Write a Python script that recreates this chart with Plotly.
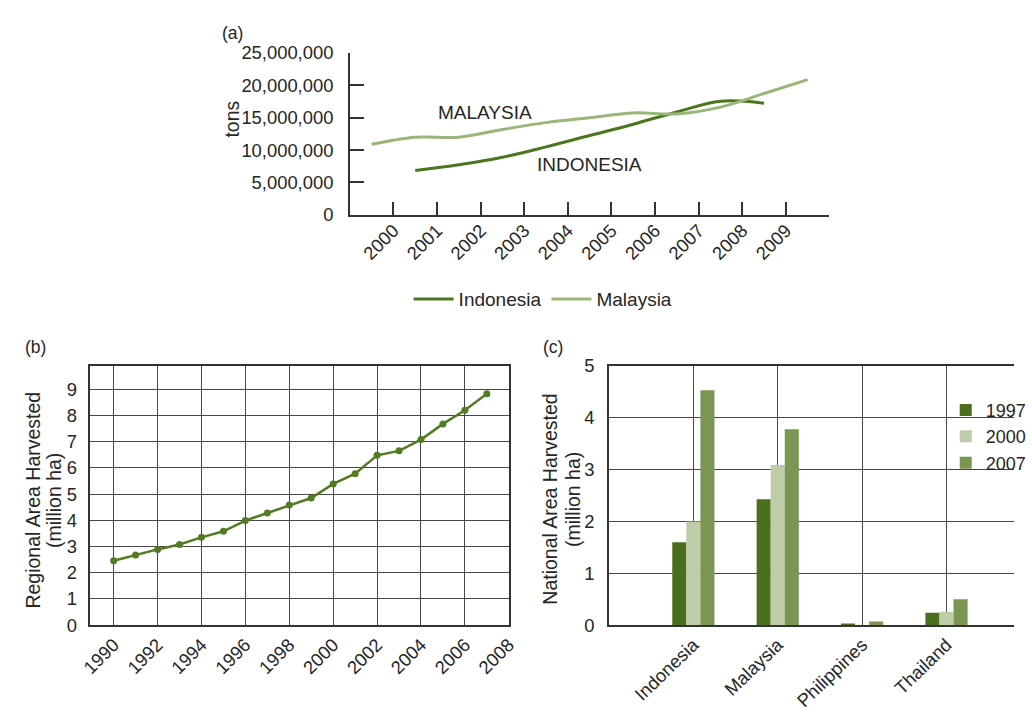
import plotly.graph_objects as go

# ---- (a) palm oil production, tons (points sit at mid-year) ----
malaysia_years = [1999.5, 2000.5, 2001.5, 2002.5, 2003.5, 2004.5, 2005.5,
                  2006.5, 2007.5, 2008.5, 2009.5]
malaysia_tons = [10.9e6, 12.0e6, 12.0e6, 13.2e6, 14.25e6, 15.0e6, 15.75e6,
                 15.6e6, 16.65e6, 18.75e6, 20.9e6]
indonesia_years = [2000.5, 2001.5, 2002.5, 2003.5, 2004.5, 2005.5, 2006.5,
                   2007.5, 2008.5]
indonesia_tons = [6.85e6, 7.75e6, 8.9e6, 10.5e6, 12.25e6, 14.0e6, 15.9e6,
                  17.55e6, 17.25e6]
a_year_ticks = [2000, 2001, 2002, 2003, 2004, 2005, 2006, 2007, 2008, 2009, 2010]
a_year_labels = ["2000", "2001", "2002", "2003", "2004", "2005", "2006",
                 "2007", "2008", "2009", ""]

# ---- (b) regional area harvested, million ha ----
region_years = list(range(1990, 2008))
region_area = [2.46, 2.68, 2.89, 3.08, 3.35, 3.58, 3.99, 4.28, 4.58, 4.85,
               5.39, 5.78, 6.48, 6.65, 7.08, 7.68, 8.20, 8.83]

# ---- (c) national area harvested, million ha ----
countries = ["Indonesia", "Malaysia", "Philippines", "Thailand"]
area_1997 = [1.60, 2.43, 0.03, 0.24]
area_2000 = [2.00, 3.09, 0.00, 0.26]
area_2007 = [4.53, 3.78, 0.07, 0.50]

FONT = "Liberation Sans"
TXT = "#262626"
AX = "#333333"
GRID = "#474747"

DARK_GREEN = "#4a761e"
LIGHT_GREEN = "#9bb67a"

fig = go.Figure()

# (a) lines
fig.add_trace(go.Scatter(
    x=indonesia_years, y=indonesia_tons, name="Indonesia", mode="lines",
    line=dict(color=DARK_GREEN, width=3, shape="spline", smoothing=1),
    xaxis="x", yaxis="y", legend="legend"))
fig.add_trace(go.Scatter(
    x=malaysia_years, y=malaysia_tons, name="Malaysia", mode="lines",
    line=dict(color=LIGHT_GREEN, width=3, shape="spline", smoothing=1),
    xaxis="x", yaxis="y", legend="legend"))

# (b) line with markers
fig.add_trace(go.Scatter(
    x=region_years, y=region_area, mode="lines+markers", showlegend=False,
    line=dict(color="#527b24", width=2.5),
    marker=dict(color="#527b24", size=7),
    xaxis="x2", yaxis="y2"))

# (c) grouped bars
bar_series = [("1997", area_1997, "#4b6f1d"),
              ("2000", area_2000, "#bfcca8"),
              ("2007", area_2007, "#7a9652")]
for name, vals, col in bar_series:
    fig.add_trace(go.Bar(
        x=countries, y=vals, name=name, marker=dict(color=col, line_width=0),
        xaxis="x3", yaxis="y3", legend="legend2"))

tick_font = dict(family=FONT, size=18.4, color=TXT)

fig.update_layout(
    width=1032, height=717,
    margin=dict(l=0, r=0, t=0, b=0),
    paper_bgcolor="white", plot_bgcolor="white",
    font=dict(family=FONT, size=19, color=TXT),
    barmode="group", bargap=0.5, bargroupgap=0,
    # (a)
    xaxis=dict(domain=[0.3385, 0.8162], anchor="y", range=[1999, 2010],
               tickmode="array", tickvals=a_year_ticks, ticktext=a_year_labels,
               tickangle=-45, ticks="inside", ticklen=13, tickwidth=1.5,
               tickcolor=AX, showline=True, linecolor=AX, linewidth=1.5,
               showgrid=False, zeroline=False, tickfont=tick_font,
               ticklabelstandoff=-4),
    yaxis=dict(domain=[0.7071, 0.9396], anchor="x", range=[0, 25e6],
               tickmode="array", tickvals=[0, 5e6, 10e6, 15e6, 20e6, 25e6],
               tickformat=",d", ticks="inside", ticklen=14, tickwidth=1.5,
               tickcolor=AX, showline=True, linecolor=AX, linewidth=1.5,
               showgrid=False, zeroline=False, tickfont=tick_font,
               ticklabelstandoff=11),
    # (b)
    xaxis2=dict(domain=[0.0792, 0.4968], anchor="y2", range=[1988.9, 2008],
                tickmode="array", tickvals=list(range(1990, 2009, 2)),
                tickangle=-45, ticks="", showline=True, mirror=True,
                linecolor=AX, linewidth=1.5, showgrid=True, gridcolor=GRID,
                gridwidth=1.2, zeroline=False, tickfont=tick_font),
    yaxis2=dict(domain=[0.1176, 0.4900], anchor="x2", range=[0, 9.89],
                tickmode="array", tickvals=list(range(0, 10)), ticks="",
                showline=True, mirror=True, linecolor=AX, linewidth=1.5,
                showgrid=True, gridcolor=GRID, gridwidth=1.2, zeroline=False,
                tickfont=tick_font, ticklabelstandoff=7),
    # (c)
    xaxis3=dict(domain=[0.5966, 1.0], anchor="y3", range=[-1, 3.8],
                type="category", tickangle=-44, ticks="", showline=True,
                mirror=True, linecolor=AX, linewidth=1.5, showgrid=True,
                gridcolor=GRID, gridwidth=1.2, zeroline=False,
                tickfont=tick_font),
    yaxis3=dict(domain=[0.1176, 0.4900], anchor="x3", range=[0, 5],
                tickmode="array", tickvals=[0, 1, 2, 3, 4, 5], ticks="",
                showline=True, linecolor=AX, linewidth=1.5, showgrid=True,
                gridcolor=GRID, gridwidth=1.2, zeroline=False,
                tickfont=tick_font, ticklabelstandoff=9),
    legend=dict(orientation="h", x=0.531, xanchor="center", y=0.586,
                yanchor="middle", font=dict(family=FONT, size=19, color=TXT),
                bgcolor="rgba(0,0,0,0)", itemwidth=40),
    legend2=dict(orientation="v", x=0.932, xanchor="left", y=0.453,
                 yanchor="top", font=dict(family=FONT, size=18, color=TXT),
                 bgcolor="rgba(0,0,0,0)", tracegroupgap=0),
)

annotations = [
    # panel letters
    dict(text="(a)", x=216, y=23),
    dict(text="(b)", x=13, y=346),
    dict(text="(c)", x=546, y=346),
]
for ann in annotations:
    ann.update(xref="paper", yref="paper", xanchor="left", yanchor="middle",
               showarrow=False, font=dict(size=17.5))
    ann["x"] = ann["x"] / 1032
    ann["y"] = 1 - ann["y"] / 717

# axis titles
titles = [
    dict(text="tons", x=228, y=111),
    dict(text="Regional Area Harvested", x=24, y=504),
    dict(text="(million ha)", x=45, y=504),
    dict(text="National Area Harvested", x=555.5, y=503),
    dict(text="(million ha)", x=578.5, y=503),
]
for t in titles:
    annotations.append(dict(
        text=t["text"], x=t["x"] / 1032, y=1 - t["y"] / 717,
        xref="paper", yref="paper", xanchor="center", yanchor="middle",
        textangle=-90, showarrow=False, font=dict(size=19.5)))

# series labels inside (a)
annotations.append(dict(text="MALAYSIA", x=2002.09, y=15.85e6, xref="x",
                        yref="y", showarrow=False, font=dict(size=19)))
annotations.append(dict(text="INDONESIA", x=2004.5, y=7.82e6, xref="x",
                        yref="y", showarrow=False, font=dict(size=19)))

fig.update_layout(annotations=annotations)

fig.write_html("out.html")
